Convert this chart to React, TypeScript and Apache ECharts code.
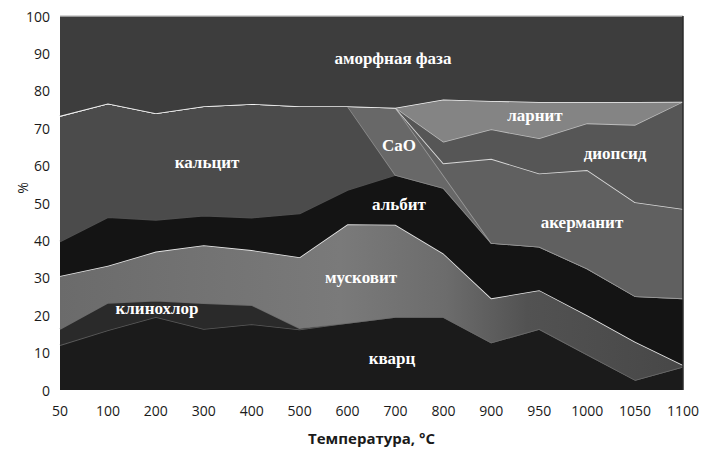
import React, { useEffect, useRef } from "react";
import * as echarts from "echarts";

const temps = ["50", "100", "200", "300", "400", "500", "600", "700", "800", "900", "950", "1000", "1050", "1100"];
const yTicks = [0, 10, 20, 30, 40, 50, 60, 70, 80, 90, 100];

const quartz = [12, 16, 19.5, 16.3, 17.6, 16.2, 17.9, 19.5, 19.5, 12.7, 16.3, 9.5, 2.7, 6.2];
const clinochlore = [4.3, 7.3, 4.4, 6.9, 5.1, 0.3, 0, 0, 0, 0, 0, 0, 0, 0];
const muscovite = [14.2, 9.9, 13.1, 15.5, 14.7, 19, 26.4, 24.7, 17, 11.8, 10.4, 10.5, 10.2, 0.5];
const albite = [9.2, 13, 8.5, 7.9, 8.7, 11.7, 9.2, 13.3, 17.5, 14.8, 11.6, 12.5, 12.2, 17.8];
const calcite = [33.6, 30.4, 28.5, 29.3, 30.4, 28.7, 22.4, 0, 0, 0, 0, 0, 0, 0];
const cao = [0, 0, 0, 0, 0, 0, 0, 18, 3.4, 0, 0, 0, 0, 0];
const akermanite = [0, 0, 0, 0, 0, 0, 0, 0, 3.2, 22.5, 19.6, 26.3, 25.1, 23.9];
const diopside = [0, 0, 0, 0, 0, 0, 0, 0, 5.8, 7.9, 9.4, 12.5, 20.7, 28.7];
const larnite = [0, 0, 0, 0, 0, 0, 0, 0, 11.3, 7.6, 9.7, 5.7, 6.1, 0];
const amorphous = [26.7, 23.4, 26, 24.1, 23.5, 24.1, 24.1, 24.5, 22.3, 22.7, 23, 23, 23, 22.9];

const muscoviteFill = new echarts.graphic.LinearGradient(0, 0, 1, 0, [
  { offset: 0, color: "#6b6b6b" },
  { offset: 0.45, color: "#7a7a7a" },
  { offset: 0.62, color: "#6c6c6c" },
  { offset: 0.75, color: "#525252" },
  { offset: 1, color: "#474747" },
]);

const seriesDefs = [
  { name: "кварц", data: quartz, fill: "#1b1b1b", edge: "#5a5a5a" },
  { name: "клинохлор", data: clinochlore, fill: "#2a2a2a", edge: "#6a6a6a" },
  { name: "мусковит", data: muscovite, fill: muscoviteFill, edge: "#e6e6e6" },
  { name: "альбит", data: albite, fill: "#141414", edge: "#505050" },
  { name: "кальцит", data: calcite, fill: "#4b4b4b", edge: "#8c8c8c" },
  { name: "CaO", data: cao, fill: "#686868", edge: "#9a9a9a" },
  { name: "акерманит", data: akermanite, fill: "#606060", edge: "#d8d8d8" },
  { name: "диопсид", data: diopside, fill: "#565656", edge: "#bdbdbd" },
  { name: "ларнит", data: larnite, fill: "#848484", edge: "#f4f4f4" },
  { name: "аморфная фаза", data: amorphous, fill: "#3d3d3d", edge: "#b5b5b5" },
];

const labels = [
  { text: "аморфная фаза", x: 393, y: 58 },
  { text: "кальцит", x: 207, y: 162 },
  { text: "CaO", x: 399, y: 145 },
  { text: "ларнит", x: 535, y: 115 },
  { text: "диопсид", x: 615, y: 153 },
  { text: "альбит", x: 399, y: 204 },
  { text: "акерманит", x: 582, y: 222 },
  { text: "мусковит", x: 361, y: 277 },
  { text: "клинохлор", x: 157, y: 308 },
  { text: "кварц", x: 392, y: 358 },
];

export default function App() {
  const ref = useRef<HTMLDivElement>(null);
  useEffect(() => {
    if (!ref.current) return;
    const chart = echarts.init(ref.current, undefined, { renderer: "svg" });
    chart.setOption({
      animation: false,
      backgroundColor: "#ffffff",
      grid: { left: 60, right: 35, top: 16, bottom: 61, containLabel: false, outerBoundsMode: "none" },
      xAxis: {
        type: "category",
        data: temps,
        boundaryGap: false,
        name: "Температура, °C",
        nameLocation: "middle",
        nameGap: 40,
        nameTextStyle: { fontFamily: "Open Sans", fontWeight: "bold", fontSize: 15, color: "#1a1a1a" },
        axisLine: { show: false },
        axisTick: { show: false },
        axisLabel: { fontFamily: "Open Sans", fontSize: 14, color: "#1a1a1a", margin: 13 },
        splitLine: { show: false },
      },
      yAxis: {
        type: "value",
        min: yTicks[0],
        max: yTicks[yTicks.length - 1],
        interval: 10,
        axisLine: { show: false },
        axisTick: { show: false },
        axisLabel: { fontFamily: "Open Sans", fontSize: 14, color: "#1a1a1a", margin: 10 },
        splitLine: { show: false },
      },
      series: seriesDefs.map((s, i) => ({
        name: s.name,
        type: "line",
        stack: "total",
        data: s.data,
        showSymbol: false,
        symbol: "none",
        z: 2 + i * 0.01,
        lineStyle: { color: s.edge, width: 1.6 },
        areaStyle: { color: s.fill, opacity: 1 },
        emphasis: { disabled: true },
      })),
      graphic: [
        ...labels.map((l) => ({
          type: "text",
          x: l.x,
          y: l.y,
          z: 100,
          style: {
            text: l.text,
            fill: "#ffffff",
            font: "bold 17px 'Liberation Serif', serif",
            textAlign: "center",
            textVerticalAlign: "middle",
          },
        })),
        {
          type: "text",
          x: 22,
          y: 188,
          rotation: Math.PI / 2,
          z: 100,
          style: {
            text: "%",
            fill: "#1a1a1a",
            font: "14px 'Open Sans', sans-serif",
            textAlign: "center",
            textVerticalAlign: "middle",
          },
        },
        {
          type: "line",
          z: 100,
          shape: { x1: 683, y1: 16, x2: 683, y2: 390 },
          style: { stroke: "#2a2a2a", lineWidth: 1.5 },
        },
      ],
    });
    return () => chart.dispose();
  }, []);
  return (
    <div
      ref={ref}
      style={{ position: "fixed", left: 0, top: 0, width: 718, height: 451, background: "#fff" }}
    />
  );
}
